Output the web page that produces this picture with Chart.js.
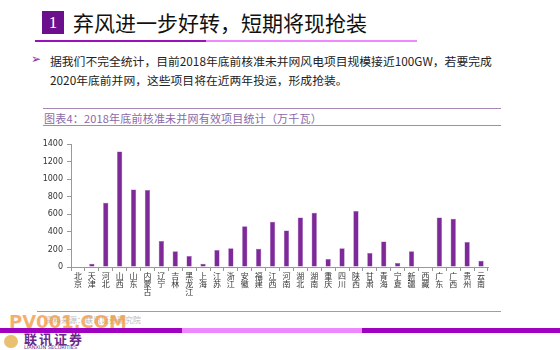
<!DOCTYPE html>
<html>
<head>
<meta charset="utf-8">
<script src="https://cdn.jsdelivr.net/npm/chart.js@4.4.0/dist/chart.umd.min.js"></script>
<style>
body { margin:0; width:560px; height:350px; overflow:hidden; background:#fff; font-family:"Noto Sans CJK SC", sans-serif; position:relative; }
.abs { position:absolute; white-space:nowrap; }
</style>
</head>
<body>
<div class="abs" style="left:42px;top:11px;width:22px;height:23px;background:#6b0f8c;color:#fff;font:17px 'Liberation Serif';text-align:center;line-height:23px;">1</div>
<div class="abs" style="left:73px;top:7px;font-size:21px;color:#111;">弃风进一步好转，短期将现抢装</div>
<div class="abs" style="left:35px;top:40px;width:171px;height:2px;background:#9a10bb;"></div>
<div class="abs" style="left:206px;top:40px;width:211px;height:2px;background:#ee88ff;"></div>

<div class="abs" style="left:31px;top:52px;font:12px 'DejaVu Sans';color:#8a2aa8;">➢</div>
<div class="abs" style="left:50px;top:52px;font-size:11.8px;color:#222;">据我们不完全统计，目前2018年底前核准未并网风电项目规模接近100GW，若要完成</div>
<div class="abs" style="left:50px;top:71px;font-size:11.8px;color:#222;">2020年底前并网，这些项目将在近两年投运，形成抢装。</div>

<div class="abs" style="left:43px;top:108px;width:458px;height:1px;background:#a888b8;"></div>
<div class="abs" style="left:44px;top:110px;font-size:11px;color:#8a68a8;letter-spacing:0.2px;">图表4：2018年底前核准未并网有效项目统计（万千瓦）</div>
<div class="abs" style="left:43px;top:125px;width:458px;height:1px;background:#a888b8;"></div>

<div class="abs" style="left:30px;top:135px;width:470px;height:170px;">
<canvas id="grafico"></canvas>
</div>

<div class="abs" style="left:37px;top:311px;width:464px;height:1px;background:#b090c0;"></div>
<div class="abs" style="left:45px;top:314px;font-size:8px;color:#bbb;">资料来源：联讯证券研究院</div>
<div class="abs" style="left:9px;top:311px;font:bold 18px 'DejaVu Sans';color:rgba(240,150,60,0.75);">PV001.COM</div>
<div class="abs" style="left:0;top:328px;width:182px;height:5px;background:#a000c0;"></div>
<div class="abs" style="left:182px;top:328px;width:180px;height:5px;background:#ee88ff;"></div>
<div class="abs" style="left:362px;top:328px;width:198px;height:5px;background:#a000c0;"></div>
<div class="abs" style="left:4px;top:335px;width:14px;height:13px;border-radius:7px;background:#e8c070;"></div>
<div class="abs" style="left:24px;top:329px;font-size:13px;font-weight:bold;color:#6a2a8a;letter-spacing:2px;">联讯证券</div>
<div class="abs" style="left:24px;top:344px;font:5px 'DejaVu Sans';color:#6a2a8a;">LIANXUN SECURITIES</div>

<script>
var PROVINCIAS = ["北京","天津","河北","山西","山东","内蒙古","辽宁","吉林","黑龙江","上海",
  "江苏","浙江","安徽","福建","江西","河南","湖北","湖南","重庆","四川",
  "陕西","甘肃","青海","宁夏","新疆","西藏","广东","广西","贵州","云南"];
var VALORES = [0,38,730,1315,882,876,295,178,125,38,
  193,214,465,208,515,416,564,617,91,212,
  636,159,291,45,178,0,564,549,284,72];
var TICKS_Y = [0,200,400,600,800,1000,1200,1400];

function generarBarChart(LABELS, VALUES, DIV_ELEMENT) {
	var etiquetas = LABELS.map(function (p) { return p.split(""); });
	var ctx = document.getElementById(DIV_ELEMENT).getContext('2d');
	window.myBar = new Chart(ctx, {
		type: 'bar',
		data: {
			labels: etiquetas,
			datasets: [{
				data: VALUES,
				backgroundColor: '#7d2a98',
				borderColor: '#a060c0',
				borderWidth: 0.5,
				barPercentage: 0.38,
				categoryPercentage: 1
			}]
		},
		options: {
			responsive: true,
			maintainAspectRatio: false,
			animation: false,
			layout: { padding: { top: 9, right: 12 } },
			plugins: { legend: { display: false }, tooltip: { enabled: false } },
			scales: {
				x: {
					grid: { display: true, drawOnChartArea: false, offset: true, tickLength: 4, color: '#999' },
					border: { color: '#999' },
					ticks: { autoSkip: false, maxRotation: 0, font: { size: 8, family: 'Noto Sans CJK SC', lineHeight: 1.0 }, color: '#333', padding: 1 },
					afterFit: function (s) { s.height = 38; }
				},
				y: {
					min: 0, max: 1400,
					afterBuildTicks: function (s) { s.ticks = TICKS_Y.map(function (v) { return { value: v }; }); },
					grid: { display: true, drawOnChartArea: false, tickLength: 4, color: '#999' },
					border: { color: '#999' },
					ticks: { font: { size: 8, family: 'DejaVu Sans' }, color: '#333', padding: 4,
						callback: function (v) { return String(v); } },
					afterFit: function (s) { s.width = 41; }
				}
			}
		}
	});
}

generarBarChart(PROVINCIAS, VALORES, "grafico");
</script>
</body>
</html>
